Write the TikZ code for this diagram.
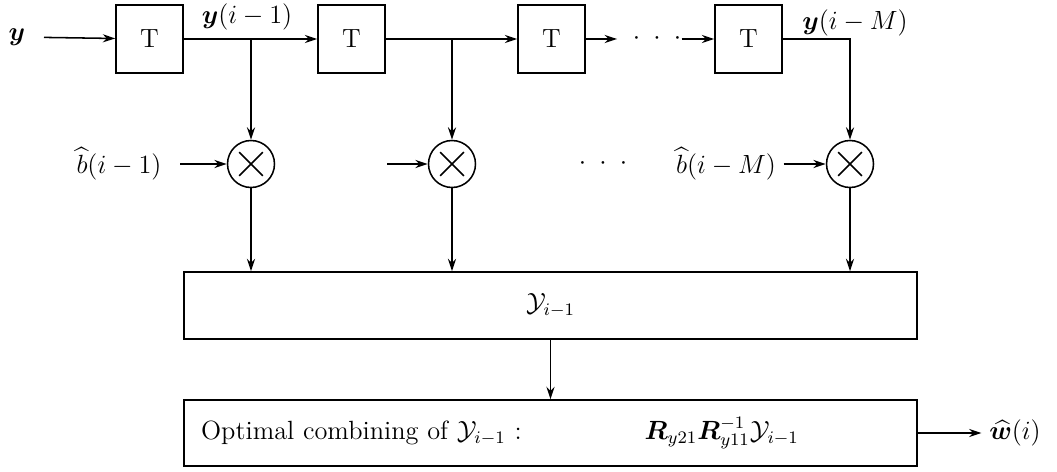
\documentclass[tikz,border=0pt]{standalone}
\usepackage{amsmath}
\usepackage{bm}
\usetikzlibrary{arrows.meta, calc}
\tikzset{
  dlybox/.style={rectangle, draw, line width=0.7pt, minimum width=1.072cm,
                 minimum height=1.088cm, inner sep=0pt},
  mixer/.style={circle, draw, line width=0.7pt, minimum size=0.752cm, inner sep=0pt,
                path picture={\draw[line width=0.7pt]
                  ([shift={(-0.19cm,-0.19cm)}]path picture bounding box.center) --
                  ([shift={(0.19cm,0.19cm)}]path picture bounding box.center)
                  ([shift={(-0.19cm,0.19cm)}]path picture bounding box.center) --
                  ([shift={(0.19cm,-0.19cm)}]path picture bounding box.center);}},
  sigflow/.style={-{Stealth[length=2mm, width=1.3mm]}, line width=0.7pt},
}

\begin{document}
\begin{tikzpicture}[x=0.016cm, y=-0.016cm, font=\large,
  widebox/.style={rectangle, draw, line width=0.7pt, minimum width=11.728cm, inner sep=0pt},
  sdots/.style={inner sep=0pt}]
  \useasboundingbox (0,0) rectangle (1057,472);
  % delay line
  \node[dlybox] (t1) at (149.5,39) {T};
  \node[dlybox] (t2) at (351.5,39) {T};
  \node[dlybox] (t3) at (551.5,39) {T};
  \node[dlybox] (t4) at (748.5,39) {T};
  \node (yin) at (17,37) {$\bm{y}$};
  \node (ly1) at (247,17) {$\bm{y}(i-1)$};
  \node (lyM) at (855,23) {$\bm{y}(i-M)$};
  \node[sdots] (tdots) at (657,39) {${\cdot}\hspace{6pt}{\cdot}\hspace{6pt}{\cdot}$};
  % multipliers
  \node[mixer] (m1) at (251,164) {};
  \node[mixer] (m2) at (452,164) {};
  \node[mixer] (m3) at (850,164) {};
  \node (lb1) at (119,164) {$\widehat{b}(i-1)$};
  \coordinate (lb2) at (387,164);
  \node[sdots] (mdots) at (603,164) {${\cdot}\hspace{6pt}{\cdot}\hspace{6pt}{\cdot}$};
  \node (lbM) at (726,164) {$\widehat{b}(i-M)$};
  % collecting and combining
  \node[widebox, minimum height=1.072cm] (ybox) at (550.5,305.5) {$\mathcal{Y}_{i-1}$};
  \node[widebox, minimum height=1.056cm, text width=11.184cm, align=left,
        inner xsep=0.272cm] (comb) at (550.5,433)
        {Optimal combining of $\mathcal{Y}_{i-1}$ :\hspace{56pt}$\bm{R}_{y21}\bm{R}_{y11}^{-1}\mathcal{Y}_{i-1}$};
  \node (wout) at (1015,433) {$\widehat{\bm{w}}(i)$};

  \draw[sigflow, shorten <=5pt] (yin) -- (t1);
  \draw[sigflow] (t1) -- (t2);
  \draw[sigflow] (t2) -- (t3);
  \draw[sigflow, shorten >=7pt] (t3) -- (tdots);
  \draw[sigflow] (tdots) -- (t4);
  \draw[sigflow] (t1 -| m1) -- (m1);
  \draw[sigflow] (t2 -| m2) -- (m2);
  \draw[sigflow] (t4.east) -| (m3);
  \draw[sigflow, shorten <=5pt] (lb1) -- (m1);
  \draw[sigflow] (lb2) -- (m2);
  \draw[sigflow] (lbM) -- (m3);
  \draw[sigflow] (m1) -- (m1 |- ybox.north);
  \draw[sigflow] (m2) -- (m2 |- ybox.north);
  \draw[sigflow] (m3) -- (m3 |- ybox.north);
  \draw[sigflow] (ybox) -- (comb);
  \draw[sigflow] (comb) -- (wout);
\end{tikzpicture}
\end{document}
